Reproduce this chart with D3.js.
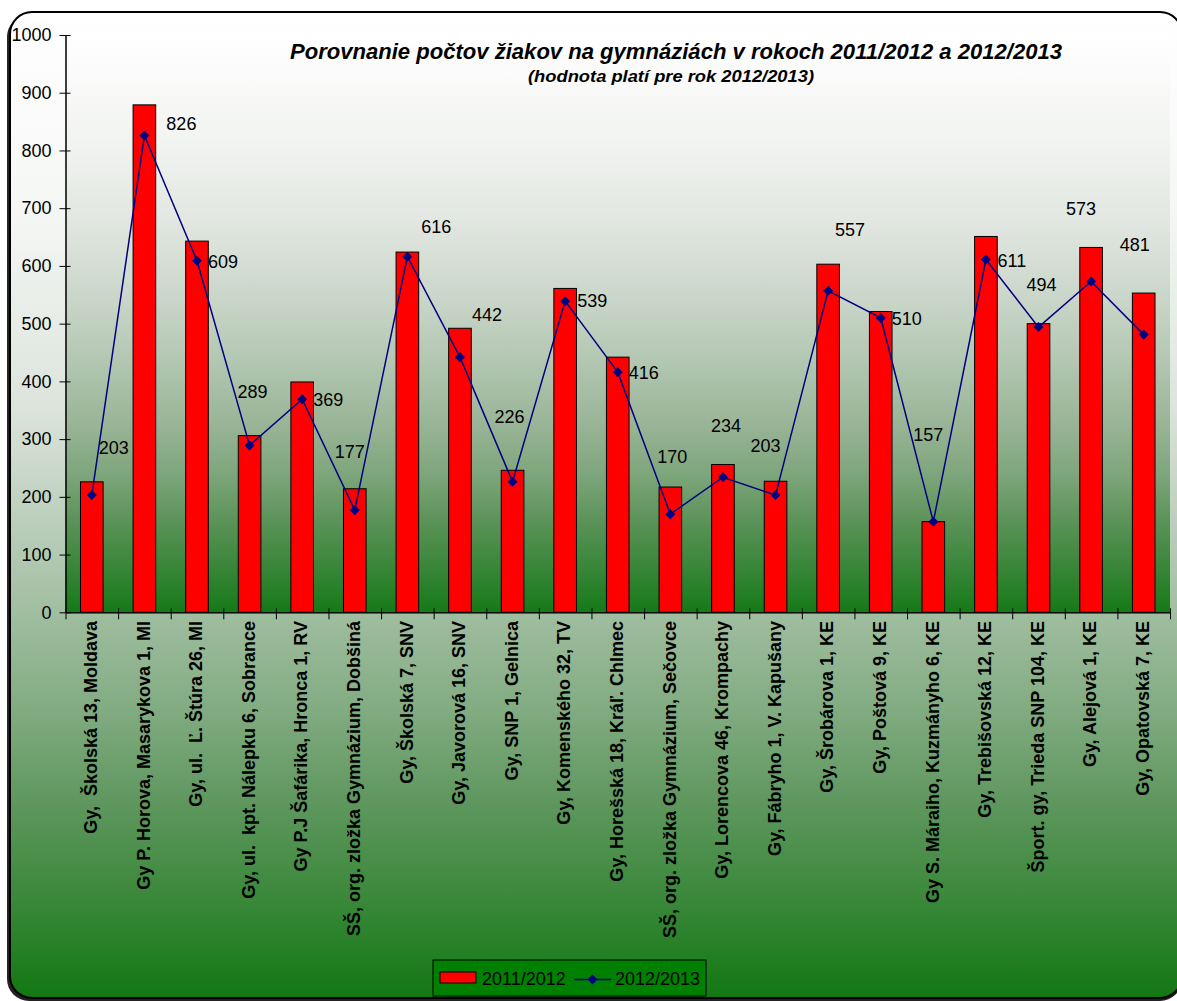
<!DOCTYPE html>
<html>
<head>
<meta charset="utf-8">
<script src="https://cdn.jsdelivr.net/npm/d3@7"></script>
<style>
  body { margin: 0; background: #fff; }
  text { font-family: "Liberation Sans", Arial, sans-serif; }
</style>
</head>
<body>
<div id="target"></div>
<script>
const categories = [
  "Gy,  Školská 13, Moldava",
  "Gy P. Horova, Masarykova 1, MI",
  "Gy, ul.  Ľ. Štúra 26, MI",
  "Gy, ul.  kpt. Nálepku 6, Sobrance",
  "Gy P.J Šafárika, Hronca 1, RV",
  "SŠ, org. zložka Gymnázium, Dobšiná",
  "Gy, Školská 7, SNV",
  "Gy, Javorová 16, SNV",
  "Gy, SNP 1, Gelnica",
  "Gy, Komenského 32, TV",
  "Gy, Horešská 18, Kráľ. Chlmec",
  "SŠ, org. zložka Gymnázium, Sečovce",
  "Gy, Lorencova 46, Krompachy",
  "Gy, Fábryho 1, V. Kapušany",
  "Gy, Šrobárova 1, KE",
  "Gy, Poštová 9, KE",
  "Gy S. Máraiho, Kuzmányho 6, KE",
  "Gy, Trebišovská 12, KE",
  "Šport. gy, Trieda SNP 104, KE",
  "Gy, Alejová 1, KE",
  "Gy, Opatovská 7, KE"
];
const values2011 = [226, 879, 643, 306, 399, 214, 624, 492, 246, 561, 442, 217, 256, 227, 603, 521, 157, 651, 500, 632, 553];
const values2012 = [203, 826, 609, 289, 369, 177, 616, 442, 226, 539, 416, 170, 234, 203, 557, 510, 157, 611, 494, 573, 481];
const yTicks = [0, 100, 200, 300, 400, 500, 600, 700, 800, 900, 1000];
const seriesNames = ["2011/2012", "2012/2013"];
const title = "Porovnanie počtov žiakov na gymnáziách v rokoch 2011/2012 a 2012/2013";
const subtitle = "(hodnota platí pre rok 2012/2013)";

// hand-placed data labels, pixel nudge from the marker
const labelNudge = [[22,-47],[37,-12],[26,1],[3,-54],[26,0],[-5,-58],[29,-30],[27,-42],[-3,-65],[27,0],[26,1],
  [2,-57],[3,-52],[-10,-49],[22,-61],[26,1],[-5,-87],[26,1],[3,-42],[-10,-73],[-9,-90]];

const W = 1177, H = 1001;
const plot = {left: 65.5, right: 1170, top: 35, bottom: 612.3};

let svg = d3.select("#target").append("svg")
  .attr("width", W).attr("height", H);

let defs = svg.append("defs");
function grad(id, stops) {
  let g = defs.append("linearGradient").attr("id", id)
    .attr("x1", 0).attr("y1", 0).attr("x2", 0).attr("y2", 1);
  stops.forEach(s => g.append("stop").attr("offset", s[0]).attr("stop-color", s[1]));
}
grad("chartBg", [[0, "#ffffff"], [0.2, "#f5f7f5"], [0.4, "#dce4dc"], [0.58, "#a9c3a9"], [0.7, "#84ad84"],
  [0.8, "#5f975f"], [0.9, "#3a883a"], [1, "#127812"]]);
grad("plotBg", [[0, "#ffffff"], [0.18, "#f2f4f1"], [0.32, "#e2e7e1"], [0.44, "#cdd8cc"], [0.55, "#b6c9b5"],
  [0.67, "#9ab598"], [0.76, "#7ea67c"], [0.84, "#5c9359"], [0.92, "#3a863a"], [1, "#157a17"]]);

// chart area frame with shadow
svg.append("rect").attr("x", 7).attr("y", 15).attr("width", 1175).attr("height", 986)
  .attr("rx", 22).attr("fill", "#222");
svg.append("rect").attr("x", 10).attr("y", 12).attr("width", 1172).attr("height", 986)
  .attr("rx", 22).attr("fill", "url(#chartBg)").attr("stroke", "#000").attr("stroke-width", 2);

svg.append("rect").attr("x", plot.left).attr("y", plot.top)
  .attr("width", plot.right - plot.left).attr("height", plot.bottom - plot.top)
  .attr("fill", "url(#plotBg)");

let x = d3.scaleBand().domain(d3.range(categories.length))
  .range([plot.left, plot.right]).paddingInner(0.57).paddingOuter(0.285);
let xEdge = d3.scaleLinear().domain([0, categories.length]).range([plot.left, plot.right]);
let y = d3.scaleLinear().domain([0, 1000]).range([plot.bottom, plot.top]);
let cx = i => x(i) + x.bandwidth() / 2;

// bars
svg.append("g").selectAll("rect").data(values2011).join("rect")
  .attr("x", (d, i) => x(i)).attr("width", x.bandwidth())
  .attr("y", d => y(d)).attr("height", d => y(0) - y(d))
  .attr("fill", "#ff0000").attr("stroke", "#000").attr("stroke-width", 1);

// y axis
let ya = svg.append("g").attr("transform", `translate(${plot.left},0)`)
  .call(d3.axisLeft(y).tickValues(yTicks).tickSize(6).tickSizeOuter(0).tickFormat(d3.format("d")));
ya.append("g").call(d3.axisRight(y).tickValues(yTicks).tickSize(5).tickSizeOuter(0).tickFormat(""));
ya.attr("font-size", 18).attr("font-family", "Liberation Sans, Arial, sans-serif");
ya.selectAll("text").attr("x", -14).attr("fill", "#000");
ya.selectAll("path, line").attr("stroke", "#000");

// x axis, ticks between categories
let xa = svg.append("g").attr("transform", `translate(0,${plot.bottom})`)
  .call(d3.axisBottom(xEdge).tickValues(d3.range(categories.length + 1)).tickSize(7).tickSizeOuter(0).tickFormat(""));
xa.append("g").call(d3.axisTop(xEdge).tickValues(d3.range(categories.length + 1)).tickSize(4).tickSizeOuter(0).tickFormat(""));
xa.selectAll("path, line").attr("stroke", "#000");

svg.append("g").selectAll("text").data(categories).join("text")
  .attr("transform", (d, i) => `translate(${cx(i) - 1},621) rotate(-90)`)
  .attr("text-anchor", "end").attr("dy", "0.35em")
  .attr("font-size", 18).attr("font-weight", "bold").style("white-space", "pre")
  .text(d => d);

// line series
let line = d3.line().x((d, i) => cx(i)).y(d => y(d));
svg.append("path").datum(values2012).attr("d", line)
  .attr("fill", "none").attr("stroke", "#000080").attr("stroke-width", 1.5);
let diamond = d3.symbol().type(d3.symbolDiamond2).size(64);
svg.append("g").selectAll("path").data(values2012).join("path")
  .attr("transform", (d, i) => `translate(${cx(i)},${y(d)})`)
  .attr("d", diamond).attr("fill", "#000080");

svg.append("g").selectAll("text").data(values2012).join("text")
  .attr("x", (d, i) => cx(i) + labelNudge[i][0])
  .attr("y", (d, i) => y(d) + labelNudge[i][1])
  .attr("dy", "0.35em").attr("text-anchor", "middle")
  .attr("font-size", 18).attr("fill", "#000")
  .text(d => d);

// titles
svg.append("text").attr("x", 676).attr("y", 59).attr("text-anchor", "middle")
  .attr("font-size", 22).attr("font-weight", "bold").attr("font-style", "italic")
  .attr("textLength", 772).attr("lengthAdjust", "spacingAndGlyphs").text(title);
svg.append("text").attr("x", 671).attr("y", 82).attr("text-anchor", "middle")
  .attr("font-size", 16).attr("font-weight", "bold").attr("font-style", "italic")
  .attr("textLength", 286).attr("lengthAdjust", "spacingAndGlyphs").text(subtitle);

// legend
let lg = svg.append("g").attr("transform", "translate(433,960)");
lg.append("rect").attr("width", 273).attr("height", 36).attr("fill", "#008000").attr("stroke", "#000");
lg.append("rect").attr("x", 7).attr("y", 12).attr("width", 36).attr("height", 11)
  .attr("fill", "#ff0000").attr("stroke", "#000");
lg.append("text").attr("x", 49).attr("y", 25).attr("font-size", 18).text(seriesNames[0]);
lg.append("line").attr("x1", 141).attr("x2", 178).attr("y1", 19.5).attr("y2", 19.5)
  .attr("stroke", "#000080").attr("stroke-width", 1.5);
lg.append("path").attr("transform", "translate(159.5,19.5)").attr("d", diamond).attr("fill", "#000080");
lg.append("text").attr("x", 182).attr("y", 25).attr("font-size", 18).text(seriesNames[1]);
</script>
</body>
</html>
